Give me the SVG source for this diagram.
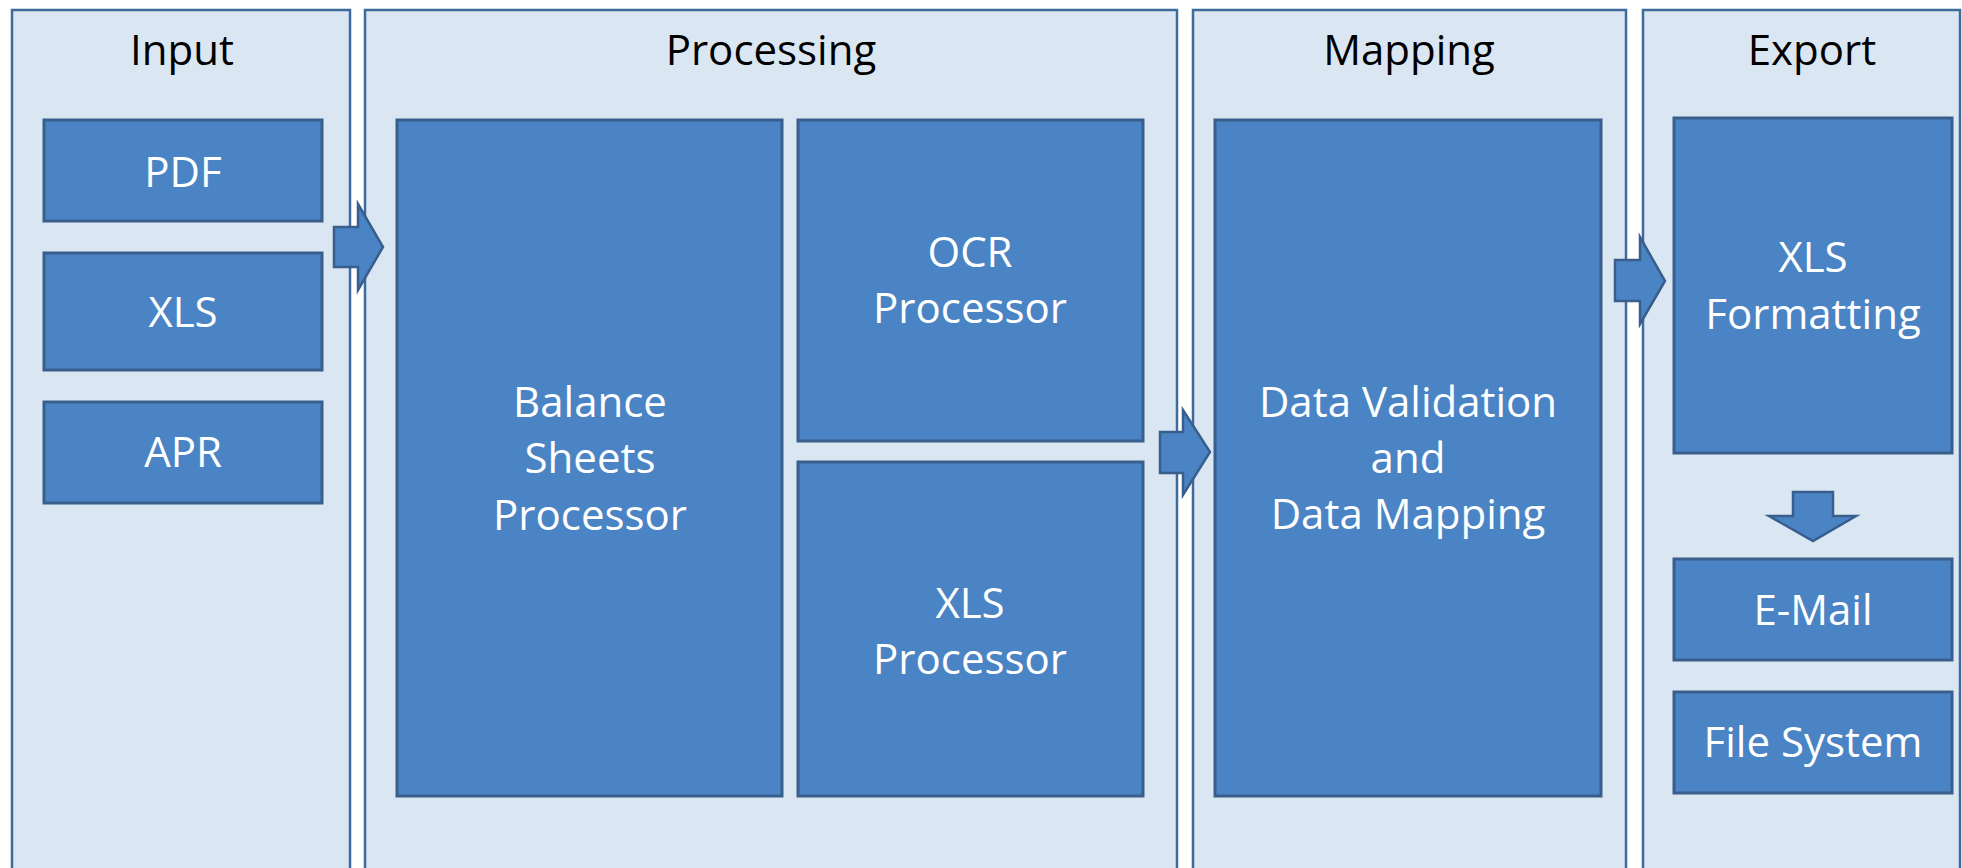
<svg xmlns="http://www.w3.org/2000/svg" width="1962" height="868" viewBox="0 0 1962 868">
<style>
.panel{fill:#DAE6F2;stroke:#3F6A9C;stroke-width:2.5}
.box{fill:#4A84C4;stroke:#385E8C;stroke-width:3}
.arrow{fill:#4A84C4;stroke:#385E8C;stroke-width:2.5;stroke-linejoin:miter}
.title{font-family:"Open Sans","Liberation Sans",sans-serif;font-size:42px;fill:#000;text-anchor:middle}
.label{font-family:"Open Sans","Liberation Sans",sans-serif;font-size:42px;fill:#fff;text-anchor:middle}
</style>
<rect width="1962" height="868" fill="#fff"/>
<g id="panel-input">
<rect class="panel" x="12" y="10" width="338" height="880"/>
<text class="title" x="182" y="65">Input</text>
</g>
<g id="panel-processing">
<rect class="panel" x="365" y="10" width="812" height="880"/>
<text class="title" x="771" y="65">Processing</text>
</g>
<g id="panel-mapping">
<rect class="panel" x="1193" y="10" width="433" height="880"/>
<text class="title" x="1409" y="65">Mapping</text>
</g>
<g id="panel-export">
<rect class="panel" x="1643" y="10" width="317" height="880"/>
<text class="title" x="1812" y="65">Export</text>
</g>
<g id="node-pdf">
<rect class="box" x="44" y="120" width="278" height="101"/>
<text class="label" x="183" y="187">PDF</text>
</g>
<g id="node-xls">
<rect class="box" x="44" y="253" width="278" height="117"/>
<text class="label" x="183" y="327">XLS</text>
</g>
<g id="node-apr">
<rect class="box" x="44" y="402" width="278" height="101"/>
<text class="label" x="183" y="467">APR</text>
</g>
<g id="node-balance">
<rect class="box" x="397" y="120" width="385" height="676"/>
<text class="label" x="590" y="417">Balance</text>
<text class="label" x="590" y="473">Sheets</text>
<text class="label" x="590" y="530">Processor</text>
</g>
<g id="node-ocr">
<rect class="box" x="798" y="120" width="345" height="321"/>
<text class="label" x="970" y="267">OCR</text>
<text class="label" x="970" y="323">Processor</text>
</g>
<g id="node-xlsproc">
<rect class="box" x="798" y="462" width="345" height="334"/>
<text class="label" x="970" y="618">XLS</text>
<text class="label" x="970" y="674">Processor</text>
</g>
<g id="node-datavalidation">
<rect class="box" x="1215" y="120" width="386" height="676"/>
<text class="label" x="1408" y="417">Data Validation</text>
<text class="label" x="1408" y="473">and</text>
<text class="label" x="1408" y="529">Data Mapping</text>
</g>
<g id="node-xlsformatting">
<rect class="box" x="1674" y="118" width="278" height="335"/>
<text class="label" x="1813" y="272">XLS</text>
<text class="label" x="1813" y="329">Formatting</text>
</g>
<g id="node-email">
<rect class="box" x="1674" y="559" width="278" height="101"/>
<text class="label" x="1813" y="625">E-Mail</text>
</g>
<g id="node-filesystem">
<rect class="box" x="1674" y="692" width="278" height="101"/>
<text class="label" x="1813" y="757">File System</text>
</g>
<g id="connectors">
<polygon class="arrow" points="334,227 358,227 358,204 383,247 358,290 358,267 334,267"/>
<polygon class="arrow" points="1160,432 1183,432 1183,410 1210,452 1183,495 1183,473 1160,473"/>
<polygon class="arrow" points="1615,260 1640,260 1640,237 1665,281 1640,324 1640,301 1615,301"/>
<polygon class="arrow" points="1793,492 1833,492 1833,516 1856,516 1813,541 1769,516 1793,516"/>
</g>
</svg>
